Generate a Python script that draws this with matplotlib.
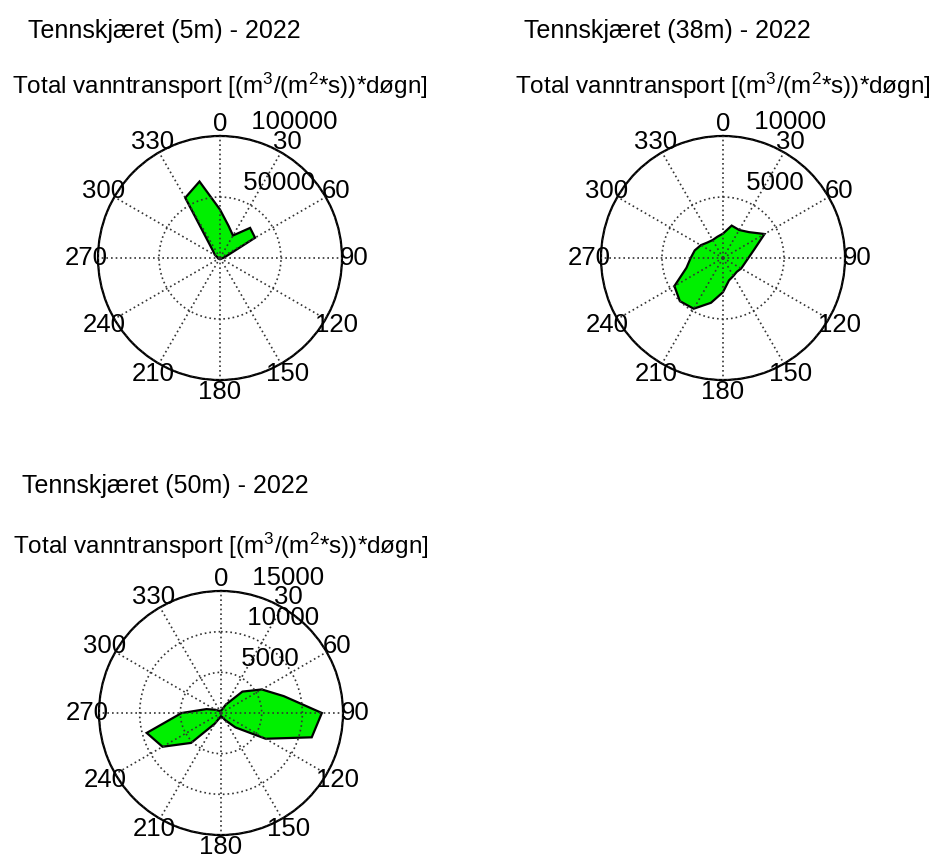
import numpy as np
import matplotlib
matplotlib.use("Agg")
import matplotlib.pyplot as plt

plt.rcParams['font.family'] = ['Liberation Sans', 'DejaVu Sans']
plt.rcParams['mathtext.default'] = 'regular'

# retning (grader, fra nord med klokka), 15 graders sektorer
retning = np.arange(0, 360, 15)

# total vanntransport per sektor
tr_5m = [39700, 27200, 21300, 34900, 33200, 5000, 2500, 1500, 1200, 1000, 1000, 1000,
         1000, 1000, 1000, 1000, 1200, 1500, 1800, 2000, 4800, 8000, 57000, 64900]
tr_38m = [2000, 2750, 2650, 3000, 3930, 2640, 2080, 1820, 1720, 1600, 1700, 1900,
          2800, 3800, 4800, 5000, 4600, 3100, 2650, 2400, 2100, 1800, 1700, 1800]
tr_50m = [300, 400, 1200, 3720, 5790, 8000, 12400, 11550, 6330, 2500, 1000, 500,
          400, 600, 1500, 5200, 8300, 9460, 4840, 1850, 800, 400, 300, 300]

stasjoner = ["Tennskjæret (5m) - 2022", "Tennskjæret (38m) - 2022", "Tennskjæret (50m) - 2022"]
rmaks = [100000, 10000, 15000]
rsteg = [50000, 5000, 5000]
undertittel = "Total vanntransport [(m$^3$/(m$^2$*s))*døgn]"

W, H = 934, 855
R = 122
sentre = [(220, 258), (723, 258), (221, 713)]
tittel_y = [(38, 94), (38, 94), (493, 554)]

fig = plt.figure(figsize=(W / 100, H / 100), dpi=100)


def polarplott(cx, cy, verdier, rmax, rinc):
    ax = fig.add_axes([(cx - R) / W, 1 - (cy + R) / H, 2 * R / W, 2 * R / H],
                      projection='polar')
    ax.set_theta_zero_location('N')
    ax.set_theta_direction(-1)
    th = np.deg2rad(retning)
    ax.fill(np.append(th, th[0]), np.append(verdier, verdier[0]),
            facecolor='#00f000', edgecolor='black', linewidth=1.6, zorder=1)
    ax.set_ylim(0, rmax)
    ax.set_xticks(np.deg2rad(np.arange(0, 360, 30)))
    ax.set_xticklabels([])
    ringer = np.arange(rinc, rmax + 1, rinc)
    ax.set_yticks(ringer)
    ax.set_yticklabels([])
    ax.set_axisbelow(False)
    ax.grid(True, color='0.2', linestyle=(0, (1, 1.8)), linewidth=1.2)
    ax.spines['polar'].set_linewidth(1.6)
    ax.spines['polar'].set_color('black')
    for v in range(0, 360, 30):
        ax.text(np.deg2rad(v), 1.1 * rmax, str(v), ha='center', va='center',
                fontsize=18.5, clip_on=False)
    for r in ringer:
        ax.text(np.deg2rad(8), r + rinc / 20, '  ' + str(int(r)), ha='left',
                va='bottom', fontsize=18.5, clip_on=False)
    return ax


for i in range(3):
    cx, cy = sentre[i]
    verdier = [tr_5m, tr_38m, tr_50m][i]
    polarplott(cx, cy, verdier, rmaks[i], rsteg[i])
    y1, y2 = tittel_y[i]
    fig.text((cx - 56) / W, 1 - y1 / H, stasjoner[i], ha='center', va='baseline', fontsize=18)
    fig.text(cx / W, 1 - y2 / H, undertittel, ha='center', va='baseline', fontsize=17.5)

fig.savefig("out.png", dpi=100)
